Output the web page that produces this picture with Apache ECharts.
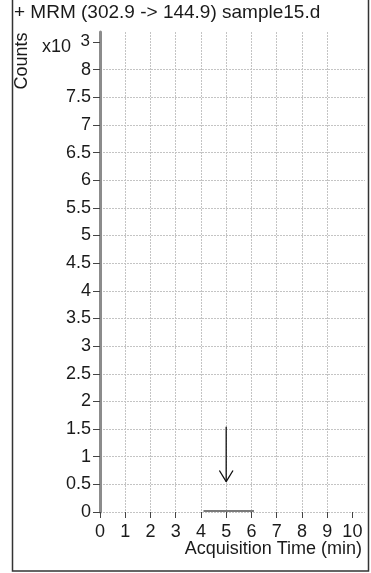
<!DOCTYPE html>
<html>
<head>
<meta charset="utf-8">
<script src="https://cdn.jsdelivr.net/npm/echarts@6.0.0/dist/echarts.min.js"></script>
<style>
  html, body { margin: 0; padding: 0; background: #fff; }
  #chart { width: 371px; height: 573px; }
</style>
</head>
<body>
<div id="chart"></div>
<script>
// Text shown on the chart
const titleText = '+ MRM (302.9 -> 144.9) sample15.d';
const yAxisTitle = 'Counts';
const xAxisTitle = 'Acquisition Time (min)';
const yScaleLabel = 'x10';
const yScaleExponent = '3';

// Axis ticks (time in minutes, counts in units of 10^3)
const xTicks = [0, 1, 2, 3, 4, 5, 6, 7, 8, 9, 10];
const yTicks = [0, 0.5, 1, 1.5, 2, 2.5, 3, 3.5, 4, 4.5, 5, 5.5, 6, 6.5, 7, 7.5, 8, 8.5];
const yTickLabels = [0, 0.5, 1, 1.5, 2, 2.5, 3, 3.5, 4, 4.5, 5, 5.5, 6, 6.5, 7, 7.5, 8];
const xRange = [0, 10.5];
const yRange = [0, 8.68];

// Acquired MRM trace (x10^3 counts) over the acquisition window
const traceTime = [4.1, 4.2, 4.3, 4.4, 4.5, 4.6, 4.7, 4.8, 4.9, 5.0, 5.1, 5.2, 5.3, 5.4, 5.5, 5.6, 5.7, 5.8, 5.9, 6.0, 6.1];
const traceCounts = [0.02, 0.02, 0.02, 0.02, 0.02, 0.02, 0.02, 0.02, 0.02, 0.02, 0.02, 0.02, 0.02, 0.02, 0.02, 0.02, 0.02, 0.02, 0.02, 0.02, 0.02];

// Arrow marking the expected retention time
const arrowShaft = [[5, 1.54], [5, 0.55]];
const arrowHead = [[4.73, 0.75], [5, 0.55], [5.27, 0.75]];

const FONT = "'Liberation Sans', Arial, sans-serif";
const TEXT_COLOR = '#1a1a1a';

const chart = echarts.init(document.getElementById('chart'), null, { renderer: 'canvas' });

const option = {
  animation: false,
  backgroundColor: '#fff',
  title: {
    text: titleText,
    left: 14,
    top: 3,
    padding: 0,
    textStyle: { fontFamily: FONT, fontSize: 19, fontWeight: 'normal', color: TEXT_COLOR }
  },
  grid: { left: 100, right: 6, top: 32, bottom: 61, containLabel: false },
  xAxis: {
    type: 'value',
    min: xRange[0],
    max: xRange[1],
    interval: 1,
    axisLine: { show: false },
    axisTick: {
      show: true, length: 6, inside: false,
      customValues: xTicks,
      lineStyle: { color: '#444', width: 1 }
    },
    axisLabel: {
      customValues: xTicks,
      margin: 11,
      fontFamily: FONT, fontSize: 18, color: TEXT_COLOR
    },
    splitLine: {
      show: true, showMinLine: false, showMaxLine: false,
      lineStyle: { color: '#c4c4c4', width: 1, type: [2, 1] }
    }
  },
  yAxis: {
    type: 'value',
    min: yRange[0],
    max: yRange[1],
    interval: 0.5,
    axisLine: { show: true, lineStyle: { color: '#8c8c8c', width: 3 } },
    axisTick: {
      show: true, length: 7, inside: false,
      customValues: yTicks,
      lineStyle: { color: '#444', width: 1 }
    },
    axisLabel: {
      customValues: yTickLabels,
      margin: 9,
      fontFamily: FONT, fontSize: 18, color: TEXT_COLOR,
      formatter: v => String(v)
    },
    splitLine: {
      show: true, showMinLine: true, showMaxLine: false,
      lineStyle: { color: '#c4c4c4', width: 1, type: [2, 1] }
    }
  },
  series: [
    {
      name: 'MRM trace',
      type: 'line',
      data: traceTime.map((t, i) => [t, traceCounts[i]]),
      showSymbol: false,
      lineStyle: { color: '#7a7a7a', width: 2 },
      z: 3
    },
    {
      name: 'arrow shaft',
      type: 'line',
      data: arrowShaft,
      showSymbol: false,
      lineStyle: { color: '#111', width: 1.3 },
      z: 4
    },
    {
      name: 'arrow head',
      type: 'line',
      data: arrowHead,
      showSymbol: false,
      lineStyle: { color: '#111', width: 1.3 },
      z: 4
    }
  ]
};

chart.setOption(option);

// Annotations positioned from the axis scales: frame, axis titles, exponent
const topTickY = chart.convertToPixel({ yAxisIndex: 0 }, yTicks[yTicks.length - 1]);
const axisX = chart.convertToPixel({ xAxisIndex: 0 }, xTicks[0]);

chart.setOption({
  graphic: [
    {
      type: 'rect',
      shape: { x: 12.5, y: -1, width: 356, height: 572 },
      style: { fill: 'none', stroke: '#333', lineWidth: 1.5 },
      silent: true
    },
    {
      type: 'text',
      x: 22, y: 61,
      rotation: Math.PI / 2,
      style: {
        text: yAxisTitle, fontFamily: FONT, fontSize: 18, fill: TEXT_COLOR,
        align: 'center', verticalAlign: 'middle'
      }
    },
    {
      type: 'text',
      x: 71, y: topTickY + 5,
      style: {
        text: yScaleLabel, fontFamily: FONT, fontSize: 18, fill: TEXT_COLOR,
        align: 'right', verticalAlign: 'middle'
      }
    },
    {
      type: 'text',
      x: axisX - 10, y: topTickY - 1,
      style: {
        text: yScaleExponent, fontFamily: FONT, fontSize: 17, fill: TEXT_COLOR,
        align: 'right', verticalAlign: 'middle'
      }
    },
    {
      type: 'text',
      x: 362, y: 549,
      style: {
        text: xAxisTitle, fontFamily: FONT, fontSize: 18, fill: TEXT_COLOR,
        align: 'right', verticalAlign: 'middle'
      }
    }
  ]
});
</script>
</body>
</html>
